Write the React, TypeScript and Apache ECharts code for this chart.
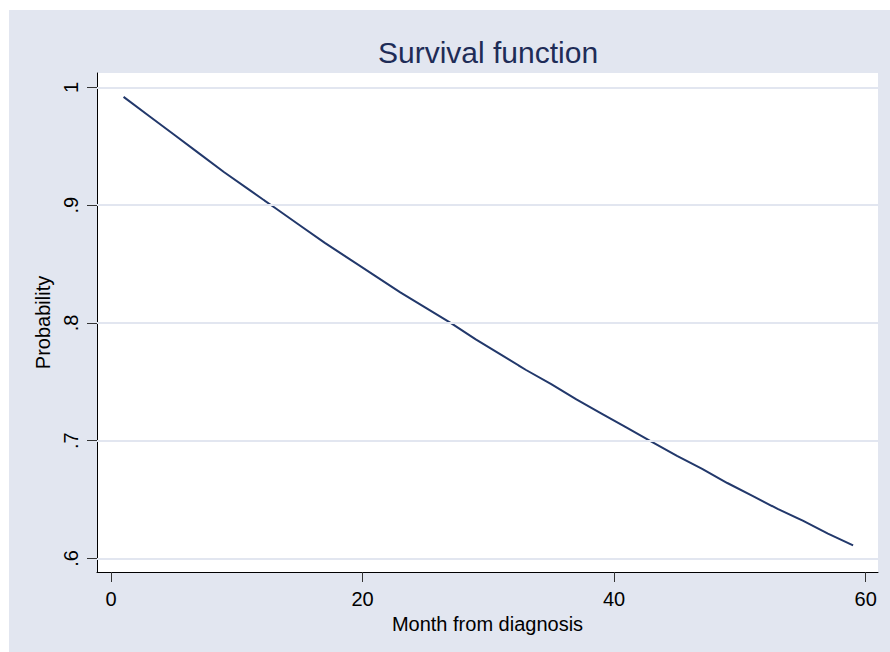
import React, { useEffect, useRef } from 'react';
import * as echarts from 'echarts';

const months = [1, 3, 5, 7, 9, 11, 13, 15, 17, 19, 21, 23, 25, 27, 29, 31, 33, 35, 37, 39, 41, 43, 45, 47, 49, 51, 53, 55, 57, 59];
const survival = [0.992, 0.976, 0.960, 0.944, 0.928, 0.913, 0.898, 0.883, 0.868, 0.854, 0.840, 0.826, 0.813, 0.800, 0.786, 0.773, 0.760, 0.748, 0.735, 0.723, 0.711, 0.699, 0.687, 0.676, 0.664, 0.653, 0.642, 0.632, 0.621, 0.611];
const xTicks = [0, 20, 40, 60];
const xTickLabels = ['0', '20', '40', '60'];
const yTicks = [0.6, 0.7, 0.8, 0.9, 1];
const yTickLabels = ['.6', '.7', '.8', '.9', '1'];
const titleText = 'Survival function';
const xName = 'Month from diagnosis';
const yName = 'Probability';

const FONT = "'Liberation Sans', Arial, sans-serif";
const BG = '#e2e6f0';
const GRID = '#e2e6f0';
const LINE = '#22386b';
const TITLE = '#1e2c57';

function labelFor(ticks: number[], labels: string[], v: number) {
  const i = ticks.findIndex((t) => Math.abs(t - v) < 1e-6);
  return i >= 0 ? labels[i] : '';
}

export default function App() {
  const ref = useRef<HTMLDivElement>(null);
  useEffect(() => {
    const chart = echarts.init(ref.current as HTMLDivElement, null, { renderer: 'svg' });
    chart.setOption({
      animation: false,
      backgroundColor: BG,
      title: {
        text: titleText,
        left: 369,
        top: 27,
        padding: 0,
        textStyle: { fontFamily: FONT, fontSize: 30, fontWeight: 'normal', color: TITLE },
      },
      grid: {
        left: 88,
        top: 63,
        right: 12,
        bottom: 80,
        show: true,
        backgroundColor: '#ffffff',
        borderWidth: 0,
        containLabel: false,
      },
      xAxis: {
        type: 'value',
        min: -1.113,
        max: 60.98,
        name: xName,
        nameLocation: 'middle',
        nameGap: 33,
        nameTextStyle: { fontFamily: FONT, fontSize: 20, color: '#000' },
        axisLine: { show: true, onZero: false, lineStyle: { color: '#000', width: 1 } },
        axisTick: { show: true, length: 10, customValues: xTicks, lineStyle: { color: '#333', width: 1 } },
        axisLabel: {
          show: true,
          customValues: xTicks,
          margin: 17,
          fontFamily: FONT,
          fontSize: 20,
          color: '#000',
          formatter: (v: number) => labelFor(xTicks, xTickLabels, v),
        },
        splitLine: { show: false },
      },
      yAxis: {
        type: 'value',
        min: 0.5884,
        max: 1.0123,
        name: yName,
        nameLocation: 'middle',
        nameGap: 41,
        nameRotate: 90,
        nameTextStyle: { fontFamily: FONT, fontSize: 20, color: '#000' },
        axisLine: { show: true, onZero: false, lineStyle: { color: '#000', width: 1 } },
        axisTick: { show: true, length: 10, customValues: yTicks, lineStyle: { color: '#333', width: 1 } },
        axisLabel: {
          show: true,
          customValues: yTicks,
          rotate: 90,
          margin: 16,
          fontFamily: FONT,
          fontSize: 20,
          color: '#000',
          formatter: (v: number) => labelFor(yTicks, yTickLabels, v),
        },
        splitLine: { show: false },
      },
      series: [
        {
          type: 'line',
          name: 'grid',
          data: [],
          z: 1,
          silent: true,
          markLine: {
            silent: true,
            symbol: 'none',
            animation: false,
            label: { show: false },
            lineStyle: { color: GRID, width: 2, type: 'solid' },
            data: yTicks.map((v) => ({ yAxis: v })),
          },
        },
        {
          type: 'line',
          name: 'Survival',
          z: 3,
          data: months.map((m, i) => [m, survival[i]]),
          showSymbol: false,
          symbol: 'none',
          smooth: false,
          lineStyle: { color: LINE, width: 2 },
        },
      ],
    });
    return () => chart.dispose();
  }, []);
  return <div ref={ref} style={{ position: 'fixed', left: 9, top: 10, width: 881, height: 642 }} />;
}
